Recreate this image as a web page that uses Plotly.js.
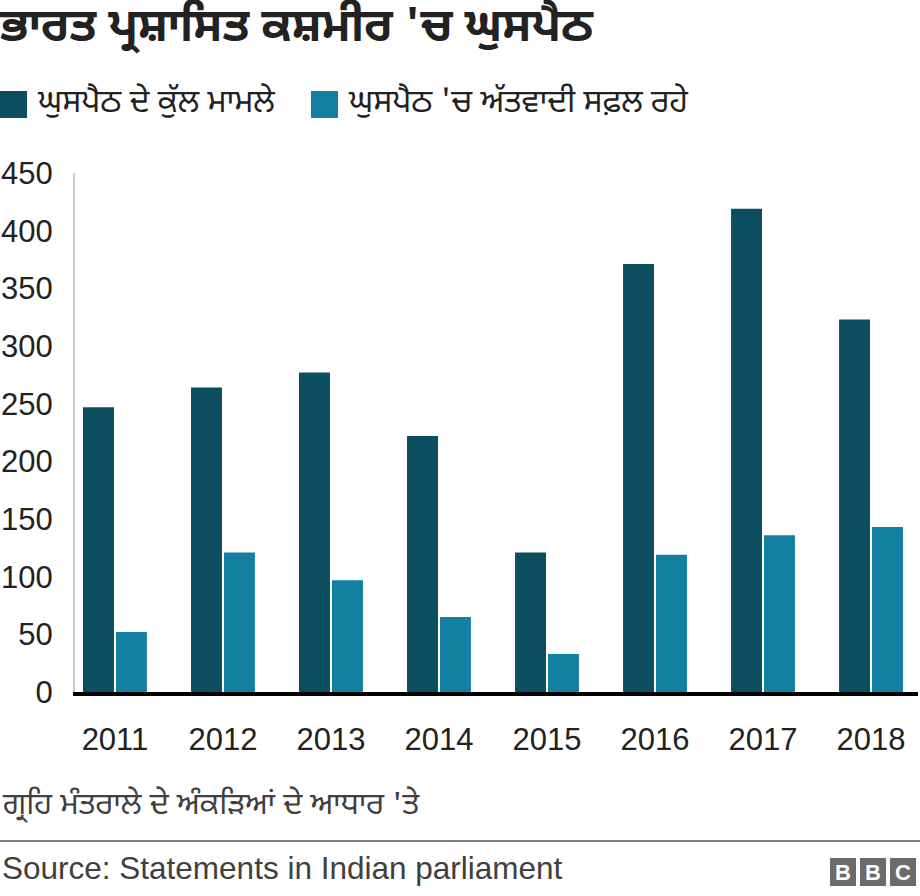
<!DOCTYPE html>
<html>
<head>
<meta charset="utf-8">
<script src="https://cdn.plot.ly/plotly-3.0.1.min.js"></script>
<style>
  body { margin: 0; background: #fff; }
  #myDiv { width: 920px; height: 896px; }
</style>
</head>
<body>
<div id="myDiv"></div>
<script>
var years = ['2011', '2012', '2013', '2014', '2015', '2016', '2017', '2018'];
var totalCases = [247, 264, 277, 222, 121, 371, 419, 323];
var successful = [52, 121, 97, 65, 33, 119, 136, 143];

var nameTotal = 'ਘੁਸਪੈਠ ਦੇ ਕੁੱਲ ਮਾਮਲੇ';
var nameSuccess = "ਘੁਸਪੈਠ 'ਚ ਅੱਤਵਾਦੀ ਸਫ਼ਲ ਰਹੇ";

var darkCol = '#0c4d60';
var lightCol = '#1480a1';
var pa = 'Noto Sans Gurmukhi, Noto Sans, Liberation Sans, Arial, sans-serif';
var latin = 'Liberation Sans, Arial, sans-serif';

// plot area in pixels
var L = 75, R = 918, T = 173, B = 692;
function px(x) { return (x - L) / (R - L); }
function py(y) { return (B - y) / (B - T); }

var trace1 = {
  name: nameTotal,
  x: years,
  y: totalCases,
  type: 'bar',
  marker: {color: darkCol},
  hoverinfo: 'x+y'
};
var trace2 = {
  name: nameSuccess,
  x: years,
  y: successful,
  type: 'bar',
  marker: {color: lightCol},
  hoverinfo: 'x+y'
};

var layout = {
  width: 920,
  height: 896,
  margin: {l: L, r: 920 - R, t: T, b: 896 - B},
  paper_bgcolor: '#fff',
  plot_bgcolor: '#fff',
  showlegend: false,
  barmode: 'group',
  bargap: 0.39,
  bargroupgap: 0.06,
  title: {
    text: '<b>ਭਾਰਤ ਪ੍ਰਸ਼ਾਸਿਤ ਕਸ਼ਮੀਰ \'ਚ ਘੁਸਪੈਠ</b>',
    font: {family: pa, size: 46, color: '#222'},
    xref: 'container', x: 0, xanchor: 'left',
    yref: 'container', y: 1 - 9 / 896, yanchor: 'top',
    pad: {l: 0, t: 0}
  },
  xaxis: {
    type: 'category',
    range: [-0.37, 7.435],
    showgrid: false,
    showline: true,
    linecolor: '#000',
    linewidth: 4,
    ticks: '',
    ticklabelstandoff: 17,
    tickfont: {family: latin, size: 31, color: '#222'},
    fixedrange: true
  },
  yaxis: {
    range: [0, 450],
    tickvals: [0, 50, 100, 150, 200, 250, 300, 350, 400, 450],
    showgrid: false,
    zeroline: false,
    showline: true,
    linecolor: '#cccccc',
    linewidth: 2,
    ticks: '',
    ticklabelstandoff: 14,
    tickfont: {family: latin, size: 31, color: '#222'},
    fixedrange: true
  },
  shapes: [
    // legend keys
    {type: 'rect', xref: 'paper', yref: 'paper', x0: px(0), x1: px(27), y0: py(91), y1: py(118),
     fillcolor: darkCol, line: {width: 0}},
    {type: 'rect', xref: 'paper', yref: 'paper', x0: px(311), x1: px(338), y0: py(91), y1: py(118),
     fillcolor: lightCol, line: {width: 0}},
    // footer rule
    {type: 'line', xref: 'paper', yref: 'paper', x0: px(0), x1: px(920), y0: py(841), y1: py(841),
     line: {color: '#7f7f7f', width: 2}},
    // BBC blocks
    {type: 'rect', xref: 'paper', yref: 'paper', x0: px(830), x1: px(856), y0: py(858), y1: py(886),
     fillcolor: '#6b6b6b', line: {width: 0}},
    {type: 'rect', xref: 'paper', yref: 'paper', x0: px(860), x1: px(886), y0: py(858), y1: py(886),
     fillcolor: '#6b6b6b', line: {width: 0}},
    {type: 'rect', xref: 'paper', yref: 'paper', x0: px(890), x1: px(916), y0: py(858), y1: py(886),
     fillcolor: '#6b6b6b', line: {width: 0}}
  ],
  annotations: [
    {text: nameTotal, xref: 'paper', yref: 'paper', x: px(35), y: py(104),
     xanchor: 'left', yanchor: 'middle', showarrow: false,
     font: {family: pa, size: 32, color: '#222'}},
    {text: nameSuccess, xref: 'paper', yref: 'paper', x: px(346), y: py(104),
     xanchor: 'left', yanchor: 'middle', showarrow: false,
     font: {family: pa, size: 32, color: '#222'}},
    {text: "ਗ੍ਰਹਿ ਮੰਤਰਾਲੇ ਦੇ ਅੰਕੜਿਆਂ ਦੇ ਆਧਾਰ 'ਤੇ", xref: 'paper', yref: 'paper', x: px(0), y: py(806),
     xanchor: 'left', yanchor: 'middle', showarrow: false,
     font: {family: pa, size: 31, color: '#404040'}},
    {text: 'Source: Statements in Indian parliament', xref: 'paper', yref: 'paper', x: px(0), y: py(868),
     xanchor: 'left', yanchor: 'middle', showarrow: false,
     font: {family: latin, size: 31.5, color: '#404040'}},
    {text: '<b>B</b>', xref: 'paper', yref: 'paper', x: px(843), y: py(872),
     xanchor: 'center', yanchor: 'middle', showarrow: false,
     font: {family: latin, size: 22, color: '#fff'}},
    {text: '<b>B</b>', xref: 'paper', yref: 'paper', x: px(873), y: py(872),
     xanchor: 'center', yanchor: 'middle', showarrow: false,
     font: {family: latin, size: 22, color: '#fff'}},
    {text: '<b>C</b>', xref: 'paper', yref: 'paper', x: px(903), y: py(872),
     xanchor: 'center', yanchor: 'middle', showarrow: false,
     font: {family: latin, size: 22, color: '#fff'}}
  ]
};

Plotly.newPlot('myDiv', [trace1, trace2], layout, {displayModeBar: false, staticPlot: true});
</script>
</body>
</html>
